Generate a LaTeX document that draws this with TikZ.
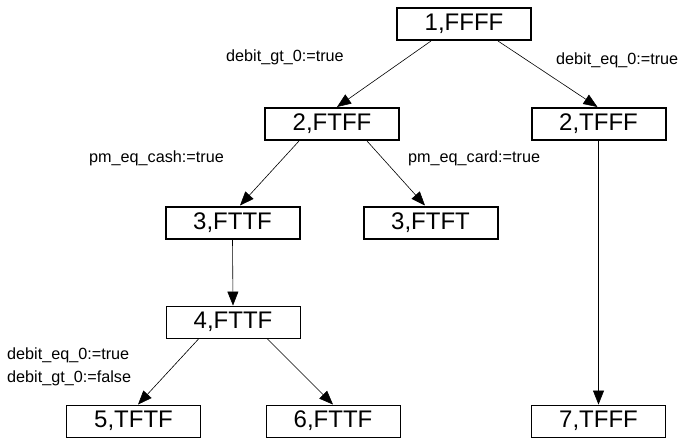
\documentclass[tikz,border=0pt]{standalone}
\usepackage{fontspec}
\setmainfont{Liberation Sans}
\usetikzlibrary{arrows.meta}
\begin{document}
\begin{tikzpicture}[x=1pt,y=-1pt,
  box/.style={draw, line width=0.9pt, minimum width=134pt, minimum height=32pt, inner sep=0pt,
    font=\fontsize{24}{24}\selectfont},
  thickbox/.style={box, line width=2pt},
  lbl/.style={inner sep=0pt, anchor=west, font=\fontsize{16.2}{16.2}\selectfont},
  edge/.style={draw, line width=0.6pt, -{Triangle[length=14pt,width=11pt]}}]
\useasboundingbox (0,0) rectangle (681,439);
\node[thickbox] (n1) at (464,24) {1,FFFF};
\node[thickbox] (n2a) at (332,124) {2,FTFF};
\node[thickbox] (n2b) at (598.5,124) {2,TFFF};
\node[thickbox] (n3a) at (232.5,222.5) {3,FTTF};
\node[thickbox] (n3b) at (430.5,222.5) {3,FTFT};
\node[box] (n4) at (233,322) {4,FTTF};
\node[box] (n5) at (133.5,421) {5,TFTF};
\node[box] (n6) at (333,421) {6,FTTF};
\node[box] (n7) at (598.5,421) {7,TFFF};

\node[lbl] (l1) at (226,57) {debit\_gt\_0:=true};
\node[lbl] (l2) at (556,60) {debit\_eq\_0:=true};
\node[lbl] (l3) at (89,158) {pm\_eq\_cash:=true};
\node[lbl] (l4) at (408,158) {pm\_eq\_card:=true};
\node[lbl] (l5) at (7,355) {debit\_eq\_0:=true};
\node[lbl] (l6) at (7,378) {debit\_gt\_0:=false};

\draw[edge] ([xshift=-33pt]n1.south) -- ([xshift=5pt]n2a.north);
\draw[edge] ([xshift=34pt]n1.south) -- ([xshift=-1pt]n2b.north);
\draw[edge] ([xshift=-33pt]n2a.south) -- ([xshift=7.5pt]n3a.north);
\draw[edge] ([xshift=35pt]n2a.south) -- ([xshift=-5.5pt]n3b.north);
\draw[edge] (n3a.south) -- (n4.north);
\draw[edge] ([xshift=-34pt]n4.south) -- ([xshift=4.5pt]n5.north);
\draw[edge] ([xshift=34pt]n4.south) -- (n6.north);
\draw[edge] (n2b.south) -- (n7.north);
\end{tikzpicture}
\end{document}
